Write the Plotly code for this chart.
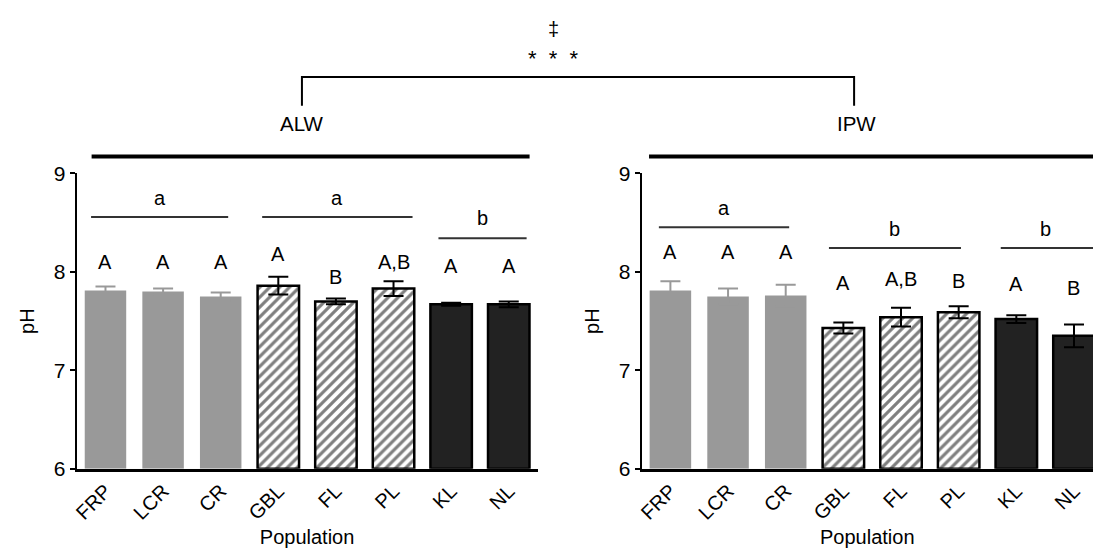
import plotly.graph_objects as go

# ---------------- data ----------------
populations = ["FRP", "LCR", "CR", "GBL", "FL", "PL", "KL", "NL"]
alw_mean = [7.81, 7.80, 7.75, 7.86, 7.70, 7.83, 7.67, 7.67]
alw_se = [0.04, 0.03, 0.04, 0.09, 0.03, 0.075, 0.015, 0.03]
ipw_mean = [7.81, 7.75, 7.76, 7.43, 7.54, 7.59, 7.52, 7.35]
ipw_se = [0.095, 0.08, 0.11, 0.055, 0.095, 0.06, 0.04, 0.115]
alw_letters = ["A", "A", "A", "A", "B", "A,B", "A", "A"]
ipw_letters = ["A", "A", "A", "A", "A,B", "B", "A", "B"]
group_letters_alw = ["a", "a", "b"]
group_letters_ipw = ["a", "b", "b"]
panel_names = ["ALW", "IPW"]
y_ticks = [6, 7, 8, 9]

# ---------------- layout helpers ----------------
W, H = 1093, 557
def px(x):
    return x / W
def py(y):
    return 1 - y / H

FONT = "Arial, Liberation Sans, sans-serif"
GRAY = "#999999"
DARK = "#222222"
FS = 20

groups = [(0, 3, "gray"), (3, 6, "hatch"), (6, 8, "dark")]

fig = go.Figure()

def add_panel(means, ses, xa, ya):
    for s, e, kind in groups:
        xs = populations[s:e]
        ys = means[s:e]
        es = ses[s:e]
        if kind == "gray":
            marker = dict(color=GRAY, line=dict(color=GRAY, width=0))
            ecol = GRAY
        elif kind == "hatch":
            marker = dict(color="white", line=dict(color="black", width=2.5),
                          pattern=dict(shape="/", fgcolor="black", bgcolor="white",
                                       size=7, solidity=0.45))
            ecol = "black"
        else:
            marker = dict(color=DARK, line=dict(color="black", width=2.5))
            ecol = "black"
        fig.add_trace(go.Bar(
            x=xs, y=[v - 6 for v in ys], base=6, width=0.72,
            marker=marker, xaxis=xa, yaxis=ya, showlegend=False,
            error_y=dict(type="data", array=es, visible=True, color=ecol,
                         thickness=2, width=10),
        ))

add_panel(alw_mean, alw_se, "x", "y")
add_panel(ipw_mean, ipw_se, "x2", "y2")

xaxis_common = dict(
    type="category", categoryorder="array", categoryarray=populations,
    showline=True, linewidth=2.5, linecolor="black", ticks="",
    tickangle=-45, tickfont=dict(family=FONT, size=FS, color="black"),
    showgrid=False, zeroline=False,
    title=dict(text="Population", font=dict(family=FONT, size=FS, color="black"), standoff=8),
)
yaxis_common = dict(
    range=[6, 9], tickvals=y_ticks, showline=True, linewidth=2, linecolor="black",
    ticks="outside", ticklen=5, tickwidth=2, tickcolor="black",
    tickfont=dict(family=FONT, size=FS + 1, color="black"),
    showgrid=False, zeroline=False,
    title=dict(text="pH", font=dict(family=FONT, size=FS, color="black"), standoff=14),
)

fig.update_layout(
    width=W, height=H, margin=dict(l=0, r=0, t=0, b=0),
    paper_bgcolor="white", plot_bgcolor="white", barmode="overlay",
    xaxis=dict(domain=[px(72), px(535)], range=[-0.5, 7.5], anchor="y", **xaxis_common),
    xaxis2=dict(domain=[px(639.5), 1.0], range=[-0.5, 7.33], anchor="y2", **xaxis_common),
    yaxis=dict(domain=[py(476.5), py(168.3)], anchor="x", **yaxis_common),
    yaxis2=dict(domain=[py(476.5), py(168.3)], anchor="x2", **yaxis_common),
)

shapes = []
annotations = []

def letter(x, y, text, xref, yref, size=FS):
    annotations.append(dict(x=x, y=y, xref=xref, yref=yref, text=text, showarrow=False,
                            font=dict(family=FONT, size=size, color="black"),
                            xanchor="center", yanchor="middle"))

# uppercase letters (heights in data units)
alw_letter_y = [8.105, 8.105, 8.105, 8.185, 7.945, 8.105, 8.055, 8.055]
ipw_letter_y = [8.20, 8.20, 8.20, 7.89, 7.93, 7.91, 7.875, 7.835]
for i, t in enumerate(alw_letters):
    letter(i, alw_letter_y[i], t, "x", "y")
for i, t in enumerate(ipw_letters):
    letter(i, ipw_letter_y[i], t, "x2", "y2")

# group lines and lowercase letters
alw_lines = [(-0.25, 2.13, 8.556, 8.75), (2.72, 5.33, 8.556, 8.75), (5.78, 7.31, 8.34, 8.546)]
ipw_lines = [(-0.2, 2.06, 8.452, 8.65), (2.75, 5.04, 8.241, 8.432), (5.73, 8.0, 8.241, 8.432)]
for (x0, x1, yl, yt), t in zip(alw_lines, group_letters_alw):
    shapes.append(dict(type="line", xref="x", yref="y", x0=x0, x1=x1, y0=yl, y1=yl,
                       line=dict(color="#333333", width=2)))
    letter((x0 + x1) / 2, yt, t, "x", "y")
for (x0, x1, yl, yt), t in zip(ipw_lines, group_letters_ipw):
    shapes.append(dict(type="line", xref="x2", yref="y2", x0=x0, x1=min(x1, 7.33), y0=yl, y1=yl,
                       line=dict(color="#333333", width=2)))
    xc = (x0 + x1) / 2 if x1 < 7.5 else 6.5
    letter(xc, yt, t, "x2", "y2")

# thick panel lines
shapes.append(dict(type="line", xref="paper", yref="paper", x0=px(87), x1=px(527),
                   y0=py(150.7), y1=py(150.7), line=dict(color="black", width=4)))
shapes.append(dict(type="line", xref="paper", yref="paper", x0=px(647), x1=1.0,
                   y0=py(150.7), y1=py(150.7), line=dict(color="black", width=4)))

# bracket
shapes.append(dict(type="path", xref="paper", yref="paper",
                   path=f"M {px(298.3)},{py(97.7)} L {px(298.3)},{py(67.7)} L {px(853)},{py(67.7)} L {px(853)},{py(97.7)}",
                   line=dict(color="black", width=2)))

def paper_text(x, y, text, size=FS):
    annotations.append(dict(x=px(x), y=py(y), xref="paper", yref="paper", text=text,
                            showarrow=False, font=dict(family=FONT, size=size, color="black"),
                            xanchor="center", yanchor="middle"))

paper_text(298, 116, panel_names[0], FS + 0.5)
paper_text(855, 116, panel_names[1], FS + 0.5)
paper_text(551, 18, "‡", FS)
paper_text(551, 49, "*\u00a0\u00a0*\u00a0\u00a0*", FS + 2)

fig.update_layout(shapes=shapes, annotations=annotations)
fig.write_html("out.html", config={"displayModeBar": False},
               post_script="document.body.style.margin='0';document.body.style.overflow='hidden';")
